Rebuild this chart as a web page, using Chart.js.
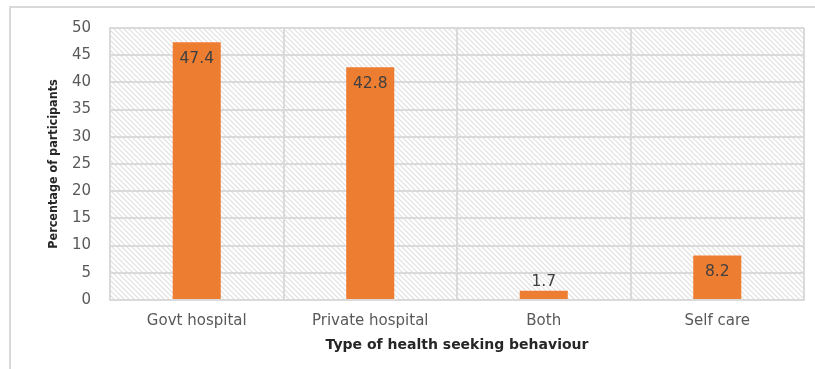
<!DOCTYPE html>
<html>
<head>
<meta charset="utf-8">
<script src="https://cdn.jsdelivr.net/npm/chart.js@4.4.0/dist/chart.umd.min.js"></script>
<style>
  html, body { margin: 0; padding: 0; background: #fff; }
  #wrap { width: 815px; height: 369px; }
</style>
</head>
<body>
<div id="wrap"><canvas id="barChart1"></canvas></div>
<script>
"use strict";

// chart data
const categories = ['Govt hospital', 'Private hospital', 'Both', 'Self care'];
const percentValues = [47.4, 42.8, 1.7, 8.2];
const yTicks = [0, 5, 10, 15, 20, 25, 30, 35, 40, 45, 50];

// hatch fill behind the plot area
var makeHatch = function () {
  const c = document.createElement('canvas');
  c.width = 5; c.height = 5;
  const g = c.getContext('2d');
  g.strokeStyle = '#e0e0e0';
  g.lineWidth = 1.2;
  g.beginPath();
  g.moveTo(0, 0); g.lineTo(5, 5);
  g.moveTo(-1, 4); g.lineTo(1, 6);
  g.moveTo(4, -1); g.lineTo(6, 1);
  g.stroke();
  return g.createPattern(c, 'repeat');
};

const backgroundPlugin = {
  id: 'bgHatch',
  beforeDraw(chart) {
    const ctx = chart.ctx;
    const a = chart.chartArea;
    ctx.save();
    ctx.fillStyle = '#fff';
    ctx.fillRect(0, 0, chart.width, chart.height);
    // outer frame (left + top only visible)
    ctx.strokeStyle = '#d9d9d9';
    ctx.lineWidth = 2;
    ctx.beginPath();
    ctx.moveTo(10, chart.height);
    ctx.lineTo(10, 7);
    ctx.lineTo(chart.width, 7);
    ctx.stroke();
    ctx.fillStyle = makeHatch();
    ctx.fillRect(a.left, a.top, a.right - a.left, a.bottom - a.top);
    ctx.restore();
  }
};

// value labels on the bars
const valueLabels = {
  id: 'valueLabels',
  afterDatasetsDraw(chart) {
    const ctx = chart.ctx;
    const meta = chart.getDatasetMeta(0);
    ctx.save();
    ctx.font = '15.5px "DejaVu Sans", sans-serif';
    ctx.fillStyle = '#404040';
    ctx.textAlign = 'center';
    ctx.textBaseline = 'middle';
    meta.data.forEach(function (bar, i) {
      const h = bar.base - bar.y;
      const y = h < 25 ? bar.y - 9 : bar.y + 17;
      ctx.fillText(String(percentValues[i]), bar.x, y);
    });
    ctx.restore();
  }
};

const bar1 = document.getElementById('barChart1');

new Chart(bar1, {
  type: 'bar',
  data: {
    labels: categories,
    datasets: [{
      label: 'Percentage',
      data: percentValues,
      backgroundColor: '#ED7D31',
      borderWidth: 0,
      categoryPercentage: 1,
      barPercentage: 0.277
    }]
  },
  options: {
    responsive: true,
    maintainAspectRatio: false,
    animation: false,
    layout: { padding: { left: 40, right: 11, top: 25, bottom: 0 } },
    plugins: {
      legend: { display: false },
      tooltip: { enabled: false }
    },
    scales: {
      x: {
        offset: true,
        grid: { color: '#dadada', lineWidth: 2, offset: true, drawTicks: false },
        border: { display: true, color: '#dadada', width: 2 },
        ticks: {
          color: '#595959',
          font: { family: '"DejaVu Sans", sans-serif', size: 15 },
          padding: 12
        },
        title: {
          display: true,
          text: 'Type of health seeking behaviour',
          color: '#262626',
          font: { family: '"DejaVu Sans", sans-serif', size: 14, weight: 'bold' },
          padding: { top: 4, bottom: 15 }
        },
        afterFit: function (scale) { scale.height = 69; }
      },
      y: {
        min: 0,
        max: 50,
        afterBuildTicks: function (scale) {
          scale.ticks = yTicks.map(function (v) { return { value: v }; });
        },
        grid: { color: '#dadada', lineWidth: 2, drawTicks: false },
        border: { display: true, color: '#dadada', width: 2 },
        ticks: {
          color: '#595959',
          font: { family: '"DejaVu Sans", sans-serif', size: 15 },
          padding: 19
        },
        title: {
          display: true,
          text: 'Percentage of participants',
          color: '#262626',
          font: { family: '"DejaVu Sans Condensed", "Liberation Sans Narrow", sans-serif', size: 12.5, weight: 'bold' },
          padding: { top: 6, bottom: 6 }
        },
        afterFit: function (scale) { scale.width = 70; }
      }
    }
  },
  plugins: [backgroundPlugin, valueLabels]
});
</script>
</body>
</html>
